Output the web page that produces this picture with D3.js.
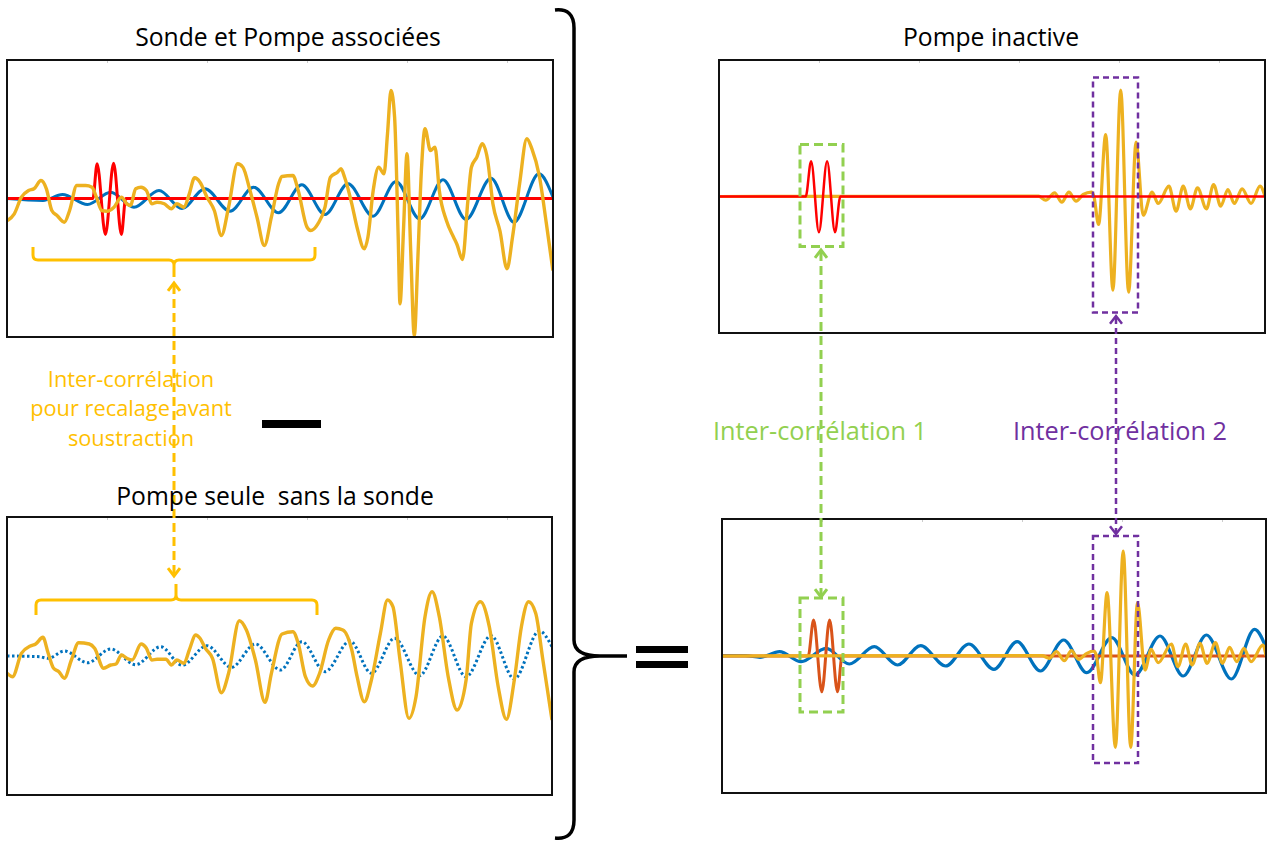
<!DOCTYPE html>
<html>
<head>
<meta charset="utf-8">
<script src="https://cdnjs.cloudflare.com/ajax/libs/d3/7.8.5/d3.min.js"></script>
<style>
  body { margin: 0; background: #fff; }
  svg { display: block; font-family: "Open Sans", Lato, sans-serif; }
  text { white-space: pre; }
</style>
</head>
<body>
<svg id="chart" width="1269" height="843"></svg>
<script>
// ===== DATA : [temps, amplitude] =====

// Sonde et Pompe associees
var tlBlue = [[0,0],[36,-2],[55.5,4],[80.5,-6],[103.7,6.3],[127,-8.7],[152,8],[175,-10],[198,9.7],[223,-12.7],
  [246.6,11.3],[271.6,-14.3],[294.8,13.7],[318,-16],[341,14.7],[366,-17.7],[389,17],[412.6,-20.3],[436,18.7],
  [459,-21],[484,20.3],[507,-23.7],[532,24.7],[546,1.3]];
var tlRed = [[0,0],[85.9,0],[90.1,34.7],[98.4,-36],[106.6,35.3],[114.4,-36],[118.7,0],[546,0]];
var tlOrange = [[0.5,-22],[7.3,-15.3],[14.4,1.3],[21.6,8],[27,9.7],[34,18],[39.4,9.7],[44.8,-12],[50,-17],
  [57.3,-23.7],[62.6,-12],[69.8,13],[78.7,13],[85,11.3],[89.4,1.3],[94.8,-12],[100,-12.7],[107,-8.7],[114.4,1.3],
  [119.8,-5.3],[123.4,-7],[128.7,9.7],[134,11.3],[139.4,8],[144.8,-5.3],[150,-3.7],[157.3,-5.3],[164.4,-10.3],
  [169.8,-5.3],[177,-8.7],[182.3,4.7],[187.6,20.7],[193,16.3],[200,1.3],[207.3,-12],[214.4,-37],[221.6,-8.7],
  [230.5,34.7],[235.9,31.3],[243,8],[250,-18.7],[257.3,-47],[264.4,-18.7],[271.6,14.7],[275,22],[285.9,23],
  [291.2,8],[300,-28.7],[303.7,-32],[310.9,-25.3],[318,-8.7],[323.4,21.3],[330.5,26.3],[334,29.7],[337.6,21.3],
  [344.8,-5.3],[350,-28.7],[357.3,-50.3],[360.9,-38.7],[366.2,8],[371.6,31.3],[377,24.7],[380.5,64.7],[384,108],
  [387.6,81.3],[391.2,-38.7],[393,-105.3],[396.6,-28.7],[400,44.7],[403.7,-52],[407.3,-137],[410.9,-58.7],
  [414.4,28],[418,69.7],[423.4,48],[428,51.3],[432.3,8],[439.4,-22],[446.6,-38.7],[450,-46],[455.5,-61],
  [460.9,-2],[464.4,31.3],[469.8,41.3],[475.2,54.7],[480.5,39.3],[485.9,-5.3],[493,-32.7],[500,-70.3],
  [505.5,-38.7],[512.6,14.7],[519.8,59.7],[525,49.3],[532.3,22.7],[539.4,-25.3],[545.9,-72]];

// Pompe seule sans la sonde
var blBlue = [[0,0],[32.3,-0.7],[41.2,-2.3],[57.3,5],[80.5,-6.7],[103.7,7],[128.7,-8.7],[153.7,9.3],[175,-9.3],
  [200,10.3],[224.4,-11.3],[248.4,12],[273.4,-14],[294.8,14.3],[318,-15.7],[343,15],[364.4,-17.3],[387.6,17.7],
  [412.6,-19.7],[435.9,20],[459,-20.7],[484,20.3],[507.3,-23],[532.3,25],[545,9.3]];
var blOrange = [[0,-17.3],[5.5,-20.7],[14.4,2.7],[23.4,10],[28.7,12],[35.9,18.7],[41.2,2.7],[46.6,-12.3],
  [51.9,-15.7],[57.3,-22.3],[64.4,-4],[71.6,13.3],[82.3,12],[87.6,7.7],[96.6,-12.3],[103.7,-9],[109,-8],
  [114.4,1],[119.8,-2.3],[125.1,-4],[134.1,12],[139.4,7.7],[144.8,-4],[150.1,-3.3],[159,-3.3],[164.4,-9],
  [169.8,-4],[177,-7.3],[182.3,6],[188.7,21],[193,17.7],[198.4,7.7],[205.5,-2.3],[214.4,-36.7],[221.6,-17.3],
  [232.3,35.3],[239.4,26],[248.4,-4],[258,-46.3],[264.4,-17.3],[275.1,22],[285.9,24.3],[291.2,12.7],
  [298.4,-20.7],[305.5,-30],[312.6,-17.3],[321.6,16],[328.7,27.7],[335.9,26],[344.8,6],[350.1,-20.7],
  [357.3,-45.7],[364.4,-24],[373.4,22.7],[380.5,56],[385.9,49.3],[393,-4],[401.9,-62.3],[409,-40.7],
  [418,39.3],[425.1,64.3],[432.3,39.3],[441.2,-20.7],[450.1,-54],[459.1,-24],[464.4,32.7],[473.4,54.3],
  [482.3,29.3],[491.2,-30.7],[499.4,-63.3],[507.3,-24],[514.4,29.3],[521.6,54.3],[528.7,42.7],[535.9,-4],
  [545,-64]];

// Pompe inactive
var trRed = [[0,0],[86.7,0],[92.1,35.3],[99.9,-35.7],[108.1,35.3],[116,-35.7],[121.4,0],[546,0]];
var trOrange = [[0,0],[319.6,0.3],[326.7,-3.7],[335.6,3.7],[342.8,-5.7],[349.9,4.3],[357.1,-4.7],[364.2,2],
  [372.4,4.3],[374.9,0.3],[379.6,-28],[386.7,62],[393.9,-93.7],[401.7,106.3],[409.6,-95.7],[417.1,54.3],
  [424.2,-18.7],[433.1,4.3],[439.2,-7],[449.9,10.3],[457.1,-14.7],[464.2,10.3],[471.4,-12.3],[478.5,8.7],
  [487.4,-12.3],[494.6,12],[501.7,-9.7],[508.9,7],[515.3,-7],[523.1,7.7],[532.1,-7],[541,10.3],[546,0.3]];

// Resultat de la soustraction
var brBlue = [[0,0.3],[23.7,0.3],[38,-1.3],[57.6,4.3],[79.1,-5.7],[104.1,7.7],[127.3,-8],[152.3,9.3],
  [175.5,-9],[198.7,10.3],[223.7,-10],[246.9,12],[271.9,-13.3],[295.1,14.3],[318.4,-15],[341.6,16],
  [364.8,-16.7],[389.8,18.3],[413,-19],[438,20],[461.2,-20],[484.4,21],[509.4,-23],[532.6,26.7],[545,6]];
var brRed = [[0,0],[86.2,0],[91.6,36],[99.8,-35.7],[107.6,36],[115.5,-35.7],[120.1,0],[544,0]];
var brOrange = [[0,0],[320.1,0.3],[327.3,-2.3],[334.4,4.3],[342.3,-4.7],[349.4,5.3],[356.6,-3.3],[364.8,2.7],
  [371.9,5],[374.4,0.3],[378.4,-26.7],[385.1,63.3],[393.4,-91.3],[401.2,105],[408.7,-91.3],[415.5,53.3],
  [423,-14],[429.1,6.7],[436.2,-6.7],[449.4,12],[455.9,-10.7],[463.7,12],[470.1,-9],[478,12.7],[485.1,-7.3],
  [493.4,13.3],[500.5,-7.3],[507.6,8.7],[514.8,-5.7],[521.9,7.7],[529.1,-5.7],[540.9,11],[544,0.3]];

var titles = ["Sonde et Pompe associées", "Pompe seule  sans la sonde", "Pompe inactive"];
var corrLabel = ["Inter-corrélation", "pour recalage avant", "soustraction"];
var corrNames = ["Inter-corrélation 1", "Inter-corrélation 2"];

// ===== SET UP =====
var BLUE = "#0072BD", RED = "#FF0000", ORANGE = "#EDB120", RUST = "#D95319";
var YEL = "#FFC000", GREEN = "#92D050", PURPLE = "#7030A0";

var svg = d3.select("#chart");

function makePanel(id, x0, y0, x1, y1) {
  var p = {id: id, x0: x0, y0: y0, x1: x1, y1: y1};
  var w = x1 - x0, h = y1 - y0;
  p.x = d3.scaleLinear().domain([0, w]).range([x0, x1]);
  p.y = d3.scaleLinear().domain([-h / 2, h / 2]).range([y1, y0]);
  svg.append("clipPath").attr("id", "clip-" + id)
    .append("rect").attr("x", x0).attr("y", y0).attr("width", w).attr("height", h);
  p.g = svg.append("g").attr("clip-path", "url(#clip-" + id + ")");
  // faint ticks on top edge
  svg.append("g").attr("transform", "translate(0," + y0 + ")")
    .call(d3.axisTop(p.x).ticks(5).tickSize(-3).tickFormat(""))
    .call(function(a) { a.select(".domain").remove(); a.selectAll("line").attr("stroke", "#ccc"); });
  return p;
}

function drawLine(p, data, color, width, dash) {
  var line = d3.line()
    .x(function(d) { return p.x(d[0]); })
    .y(function(d) { return p.y(d[1]); })
    .curve(d3.curveMonotoneX);
  var path = p.g.append("path").datum(data)
    .attr("d", line)
    .attr("fill", "none")
    .attr("stroke", color)
    .attr("stroke-width", width)
    .attr("stroke-linejoin", "round");
  if (dash) path.attr("stroke-dasharray", dash);
}

function frame(p) {
  svg.append("rect")
    .attr("x", p.x0).attr("y", p.y0)
    .attr("width", p.x1 - p.x0).attr("height", p.y1 - p.y0)
    .attr("fill", "none").attr("stroke", "#111").attr("stroke-width", 2);
}

function box(p, t0, t1, a0, a1, color, width, dash) {
  svg.append("rect")
    .attr("x", p.x(t0)).attr("y", p.y(a1))
    .attr("width", p.x(t1) - p.x(t0)).attr("height", p.y(a0) - p.y(a1))
    .attr("fill", "none").attr("stroke", color)
    .attr("stroke-width", width).attr("stroke-dasharray", dash);
}

var tl = makePanel("tl", 7, 60, 553, 337);
var bl = makePanel("bl", 7, 517, 552, 795);
var tr = makePanel("tr", 719, 60, 1265, 333);
var br = makePanel("br", 722, 519, 1266, 793);

/* --- signals --- */
drawLine(tl, tlBlue, BLUE, 3);
drawLine(tl, tlRed, RED, 3);
drawLine(tl, tlOrange, ORANGE, 3.4);

drawLine(bl, blBlue, BLUE, 3, "2.5,2.5");
drawLine(bl, blOrange, ORANGE, 3.4);

drawLine(tr, trOrange, ORANGE, 3.2);
drawLine(tr, trRed, RED, 2.5);

drawLine(br, brBlue, BLUE, 3.2);
drawLine(br, brRed, RUST, 3);
drawLine(br, brOrange, ORANGE, 3.2);

[tl, bl, tr, br].forEach(frame);

/* --- dashed boxes --- */
box(tr, 81, 124, -50, 52, GREEN, 3, "9,5");
box(tr, 374, 419, -116, 119, PURPLE, 2.5, "6,4");
box(br, 78, 121, -56, 58, GREEN, 3, "9,5");
box(br, 371, 416, -107, 120, PURPLE, 2.5, "6,4");

/* --- arrows --- */
function vArrow(x, ya, yb, color, width, dash, head) {
  svg.append("line").attr("x1", x).attr("x2", x).attr("y1", ya + 2).attr("y2", yb - 2)
    .attr("stroke", color).attr("stroke-width", width).attr("stroke-dasharray", dash);
  [[ya, 1], [yb, -1]].forEach(function(e) {
    svg.append("path")
      .attr("d", "M" + (x - head) + "," + (e[0] + e[1] * head * 1.3) + "L" + x + "," + e[0] +
                 "L" + (x + head) + "," + (e[0] + e[1] * head * 1.3))
      .attr("fill", "none").attr("stroke", color).attr("stroke-width", width)
      .attr("stroke-linejoin", "miter");
  });
}
vArrow(174, 283, 576, YEL, 3, "9,5", 6);
vArrow(821, 250, 597, GREEN, 3, "9,5", 6);
vArrow(1116, 316, 534, PURPLE, 2.5, "6,4", 6);

/* --- yellow braces --- */
svg.append("path")
  .attr("d", "M33,247 L33,255 Q33,260 38,260 L169,260 Q174,260 174,265 L174,277 " +
             "M174,265 Q174,260 179,260 L310,260 Q315,260 315,255 L315,247")
  .attr("fill", "none").attr("stroke", YEL).attr("stroke-width", 3);
svg.append("path")
  .attr("d", "M36,615 L36,605 Q36,600 41,600 L171,600 Q176,600 176,595 L176,584 " +
             "M176,595 Q176,600 181,600 L312,600 Q317,600 317,605 L317,615")
  .attr("fill", "none").attr("stroke", YEL).attr("stroke-width", 3);

/* --- big black brace, minus and equals --- */
svg.append("path")
  .attr("d", "M555,10 Q574,8 574,28 L574,640 Q574,656 600,656 L627,656 " +
             "M600,656 Q574,656 574,672 L574,820 Q574,840 555,838")
  .attr("fill", "none").attr("stroke", "#000").attr("stroke-width", 3.5);
svg.append("rect").attr("x", 262).attr("y", 420).attr("width", 59).attr("height", 8).attr("fill", "#000");
svg.append("rect").attr("x", 636).attr("y", 646).attr("width", 52).attr("height", 7).attr("fill", "#000");
svg.append("rect").attr("x", 636).attr("y", 661).attr("width", 52).attr("height", 7).attr("fill", "#000");

/* ===== LABELS ===== */
var tpos = [[288, 36], [275, 495], [991, 36]];
titles.forEach(function(t, i) {
  svg.append("text").attr("x", tpos[i][0]).attr("y", tpos[i][1])
    .attr("text-anchor", "middle").attr("dominant-baseline", "central")
    .attr("font-size", "24.7px").attr("fill", "#000")
    .text(t);
});
corrLabel.forEach(function(t, i) {
  svg.append("text").attr("x", 131).attr("y", 378 + i * 29.5)
    .attr("text-anchor", "middle").attr("dominant-baseline", "central")
    .attr("font-size", "21.8px").attr("fill", YEL)
    .text(t);
});
svg.append("text").attr("x", 820).attr("y", 430)
  .attr("text-anchor", "middle").attr("dominant-baseline", "central")
  .attr("font-size", "25.3px").attr("fill", GREEN).text(corrNames[0]);
svg.append("text").attr("x", 1120).attr("y", 430)
  .attr("text-anchor", "middle").attr("dominant-baseline", "central")
  .attr("font-size", "25.3px").attr("fill", PURPLE).text(corrNames[1]);
</script>
</body>
</html>
